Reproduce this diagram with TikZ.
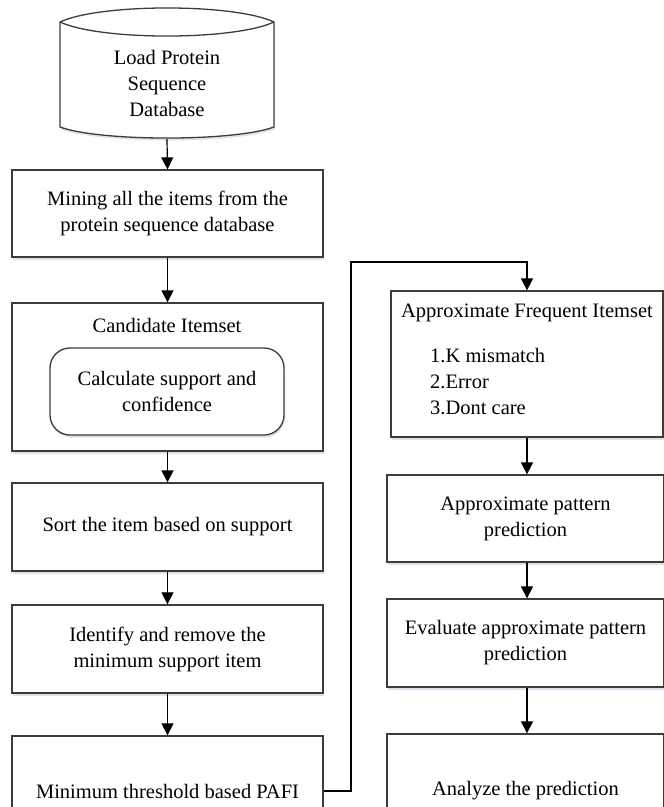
\documentclass[tikz,border=0pt]{standalone}
\usepackage{fontspec}
\setmainfont{Liberation Serif}
\usetikzlibrary{arrows.meta,shadows}
\definecolor{linegray}{RGB}{60,60,60}
\definecolor{shadowc}{RGB}{205,215,232}
\begin{document}
\begin{tikzpicture}[x=1pt,y=-1pt,
  every node/.style={font=\fontsize{20.5}{26}\selectfont},
  shad/.style={drop shadow={shadow xshift=1pt,shadow yshift=-2.5pt,fill=shadowc,opacity=0.7}},
  box/.style={draw=linegray,line width=1.3pt,fill=white,rectangle,inner sep=0pt,align=center,shad},
  lbox/.style={box,minimum width=311pt},
  rbox/.style={box,minimum width=277pt},
  rounded box/.style={box,rounded corners=20pt},
  txt/.style={inner sep=0pt,align=center},
  arr/.style={-{Triangle[width=12pt,length=12pt]},line width=1.2pt,draw=black}
]
\useasboundingbox (0,0) rectangle (664,807);
\clip (0,0) rectangle (664,807);

% database shape
\draw[draw=linegray,line width=1.3pt,fill=white,shad]
  (60,22) .. controls (100,3.3) and (234,3.3) .. (274,22)
  -- (274,127) .. controls (234,141.7) and (100,141.7) .. (60,127) -- cycle;
\draw[draw=linegray,line width=1.3pt]
  (60,22) .. controls (100,40.7) and (234,40.7) .. (274,22);
\node[txt] (db) at (167,83) {Load Protein\\Sequence\\Database};
\coordinate (dbbot) at (167,139);

% left column
\node[lbox,minimum height=87pt] (mining) at (167.5,213.5) {Mining all the items from the\\protein sequence database};
\node[lbox,minimum height=148pt] (cand) at (167.5,377) {};
\node[txt] (candt) at (167,325) {Candidate Itemset};
\node[rounded box,minimum width=234pt,minimum height=87pt] (calc) at (167,391.5) {Calculate support and\\confidence};
\node[lbox,minimum height=88pt] (sort) at (167.5,527) {Sort the item based on support};
\node[lbox,minimum height=88pt] (ident) at (167.5,649) {Identify and remove the\\minimum support item};
\node[lbox,minimum height=110pt] (pafi) at (167.5,791) {Minimum threshold based PAFI};

% right column
\node[box,minimum width=272pt,minimum height=146pt] (afi) at (527,364) {};
\node[txt] (afit) at (527,313) {Approximate Frequent Itemset};
\node[inner sep=0pt,align=left,anchor=west] (afil) at (430,381.5) {1.K mismatch\\2.Error\\3.Dont care};
\node[rbox,minimum height=87pt] (app) at (525.5,518.5) {Approximate pattern\\prediction};
\node[rbox,minimum height=88pt] (eval) at (525.5,643) {Evaluate approximate pattern\\prediction};
\node[rbox,minimum height=114pt] (anal) at (525.5,791) {Analyze the prediction};

% connectors
\draw[arr] (dbbot) -- (mining.north);
\draw[arr] (mining.south) -- (cand.north);
\draw[arr] (cand.south) -- (sort.north);
\draw[arr] (sort.south) -- (ident.north);
\draw[arr] (ident.south) -- (pafi.north);
\coordinate (j1) at (351,262);
\draw[arr] (pafi.east) -| (j1) -| (afi.north);
\draw[arr] (afi.south) -- (afi.south |- app.north);
\draw[arr] (afi.south |- app.south) -- (afi.south |- eval.north);
\draw[arr] (afi.south |- eval.south) -- (afi.south |- anal.north);
\end{tikzpicture}
\end{document}
